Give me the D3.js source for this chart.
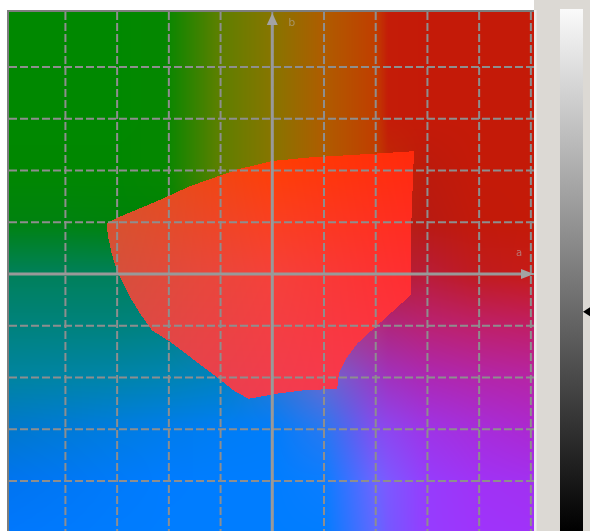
<!DOCTYPE html>
<html><head><meta charset="utf-8">
<script src="https://cdn.jsdelivr.net/npm/d3@7"></script>
<style>
html,body{margin:0;padding:0;background:#fff;overflow:hidden}
#wrap{position:relative;width:590px;height:531px}
canvas,svg{position:absolute;left:0;top:0}
</style></head>
<body><div id="wrap"><canvas id="cv" width="590" height="531"></canvas><svg id="sv" width="590" height="531"></svg></div>
<script>
// ---- data (Lab a/b plane) ----
const aNodes = [-128,-100,-75,-52,-25,0,25,50,56,75,100,127];
const bNodes = [127,100,75,50,25,0,-25,-50,-75,-100,-128];
const bgRow127 = ["#008800","#008800","#008800","#058700","#5f7f00","#877500","#af5c00","#c03e00","#c41c08","#c41a08","#c41a08","#c41a08"];
const bgRow100 = bgRow127;
const bgRow75  = bgRow127;
const bgRow50  = ["#008700","#008700","#008700","#058700","#5f7f00","#877500","#af5c00","#c03e00","#be2806","#bc1a0c","#c41a08","#c41a08"];
const bgRow25  = ["#00820f","#00820f","#00820a","#008205","#4a7a00","#877000","#af5500","#c03a00","#b42414","#b81a12","#c21a0a","#c41a08"];
const bgRow0   = ["#00805a","#00805a","#00805a","#008060","#307a70","#806060","#a04050","#b03040","#b41e32","#b91c37","#c01b1e","#c61b16"];
const bgRowM25 = ["#00827d","#00827d","#00827d","#008282","#207a90","#6060a0","#a04090","#b03080","#af267d","#b92273","#be2069","#c01e64"];
const bgRowM50 = ["#0084a0","#0084a5","#0084aa","#0084b2","#0082c0","#2a78d0","#6a68d0","#963cc3","#a032be","#ac28b4","#b226aa","#b624a5"];
const bgRowM75 = ["#0078cd","#007ad7","#007ce1","#007ceb","#007df5","#007dfa","#2878f0","#824ef0","#8c46f0","#9e34e6","#a62dda","#ac28d0"];
const bgRowM100= ["#0074f0","#0077f5","#007afa","#007cff","#007dff","#007dff","#0a7dff","#6e64ff","#7d58ff","#963cfc","#a032f5","#a230f0"];
const bgRowM128= ["#0078ff","#007aff","#007cff","#007dff","#007dff","#007dff","#007dff","#5f69ff","#7458ff","#963cff","#9e34fc","#a032fa"];
const bgRows = [bgRow127,bgRow100,bgRow75,bgRow50,bgRow25,bgRow0,bgRowM25,bgRowM50,bgRowM75,bgRowM100,bgRowM128];

// gamut outline (a, b)
const gamutA = [-80.1,-79.4,-77.7,-75.3,-72.1,-68.9,-64.0,-58.3,-49.4,-39.7,-26.8,-18.8,-11.5,2.3,15.2,31.4,32.2,36.2,41.1,49.1,57.2,66.9,67.2,68.5,50.9,18.4,0,-17.1,-39.8,-55.9,-75.3];
const gamutB = [24.6,18.1,10.0,2.0,-4.5,-11.0,-19.0,-27.1,-32.8,-40.1,-49.8,-56.2,-60.3,-57.8,-56.2,-55.4,-48.1,-40.1,-33.6,-26.3,-19.0,-10.2,24.6,59.3,58.2,56.3,54.6,50.4,42.4,35.1,27.0];
const fillANodes = [-80,0,68];
const fillBNodes = [58,0,-61];
const fillRows = [["#d85520","#ff3e00","#ff2a0c"],["#d4503c","#f5413a","#ff2d30"],["#dc4650","#f03c50","#ff3450"]];

const aTicks = [-100,-75,-50,-25,0,25,50,75,100,125];
const bTicks = [-100,-75,-50,-25,0,25,50,75,100];
const markerLevel = 0.42; // position on lightness bar (0=bottom,1=top)

// ---- scales ----
const W = 590, H = 531;
const x = d3.scaleLinear().domain([-128,127]).range([7.5,535]);
const y = d3.scaleLinear().domain([127,-128]).range([11,539]);

function field(aN,bN,rows){
  const parsed = rows.map(r=>r.map(c=>{const q=d3.rgb(c);return [q.r,q.g,q.b];}));
  const rowScales = parsed.map(r=>d3.scaleLinear().domain(aN).range(r).clamp(true));
  return function(a){
    const col = rowScales.map(s=>s(a).slice());
    return d3.scaleLinear().domain(bN).range(col).clamp(true);
  };
}

// ---- raster field ----
const ctx = document.getElementById('cv').getContext('2d');
const img = ctx.createImageData(W,H);
const poly = gamutA.map((a,i)=>[x(a), y(gamutB[i])]);
const bg = field(aNodes,bNodes,bgRows), fg = field(fillANodes,fillBNodes,fillRows);
const X0=8, X1=534, Y0=10, Y1=531;
for (let px=X0; px<X1; px++){
  const a = x.invert(px+0.5);
  const cb = bg(a), cf = fg(a);
  for (let py=Y0; py<Y1; py++){
    const b = y.invert(py+0.5);
    const c = d3.polygonContains(poly,[px+0.5,py+0.5]) ? cf(b) : cb(b);
    const k = (py*W+px)*4;
    img.data[k]=c[0]; img.data[k+1]=c[1]; img.data[k+2]=c[2]; img.data[k+3]=255;
  }
}
ctx.putImageData(img,0,0);

// ---- vector overlay ----
const svg = d3.select('#sv');
const defs = svg.append('defs');
const lg = defs.append('linearGradient').attr('id','lbar').attr('x1',0).attr('x2',0).attr('y1',0).attr('y2',1);
lg.append('stop').attr('offset','0%').attr('stop-color','#fafafa');
lg.append('stop').attr('offset','100%').attr('stop-color','#000');

// right panel
svg.append('rect').attr('x',534).attr('y',0).attr('width',56).attr('height',H).attr('fill','#dcd9d4');
svg.append('rect').attr('x',534).attr('y',10).attr('width',2.5).attr('height',H-10).attr('fill','#eeedeb');
const barY = d3.scaleLinear().domain([0,1]).range([531,9]);
svg.append('rect').attr('x',560).attr('y',barY(1)).attr('width',23).attr('height',barY(0)-barY(1)).attr('fill','url(#lbar)');
const my = barY(markerLevel);
svg.append('path').attr('d',`M583,${my}L590,${my-4.5}L590,${my+4.5}Z`).attr('fill','#000');

// grid
const gridColor = '#8e8e8e';
svg.append('g').selectAll('line').data(aTicks).join('line')
  .attr('x1',d=>x(d)).attr('x2',d=>x(d)).attr('y1',12).attr('y2',H)
  .attr('stroke',gridColor).attr('stroke-width',2).attr('stroke-dasharray','8,3');
svg.append('g').selectAll('line').data(bTicks).join('line')
  .attr('y1',d=>y(d)).attr('y2',d=>y(d)).attr('x1',9).attr('x2',534)
  .attr('stroke',gridColor).attr('stroke-width',2).attr('stroke-dasharray','8,3');

// axes
const axisColor = '#999999';
svg.append('line').attr('x1',x(0)).attr('x2',x(0)).attr('y1',y(127)+13).attr('y2',H)
  .attr('stroke',axisColor).attr('stroke-width',3);
svg.append('line').attr('y1',y(0)).attr('y2',y(0)).attr('x1',9).attr('x2',534-12)
  .attr('stroke',axisColor).attr('stroke-width',3);
svg.append('path').attr('d',`M${x(0)},${y(127)+2}L${x(0)-5.5},${y(127)+14}L${x(0)+5.5},${y(127)+14}Z`).attr('fill','#a3a3a3');
svg.append('path').attr('d',`M534,${y(0)}L521,${y(0)-5}L521,${y(0)+5}Z`).attr('fill','#a3a3a3');
svg.append('text').attr('x',x(0)+16).attr('y',y(127)+15).text('b')
  .attr('font-family','DejaVu Sans, sans-serif').attr('font-size',11).attr('fill','#b4b4b4').attr('opacity',0.55);
svg.append('text').attr('x',516).attr('y',y(0)-18).text('a')
  .attr('font-family','DejaVu Sans, sans-serif').attr('font-size',10).attr('fill','#b4b4b4').attr('opacity',0.6);

// frame
svg.append('line').attr('x1',8).attr('x2',8).attr('y1',10).attr('y2',H).attr('stroke','#7d7d7d').attr('stroke-width',2);
svg.append('line').attr('x1',7).attr('x2',534).attr('y1',11).attr('y2',11).attr('stroke','#7d7d7d').attr('stroke-width',2);
</script>
</body></html>
